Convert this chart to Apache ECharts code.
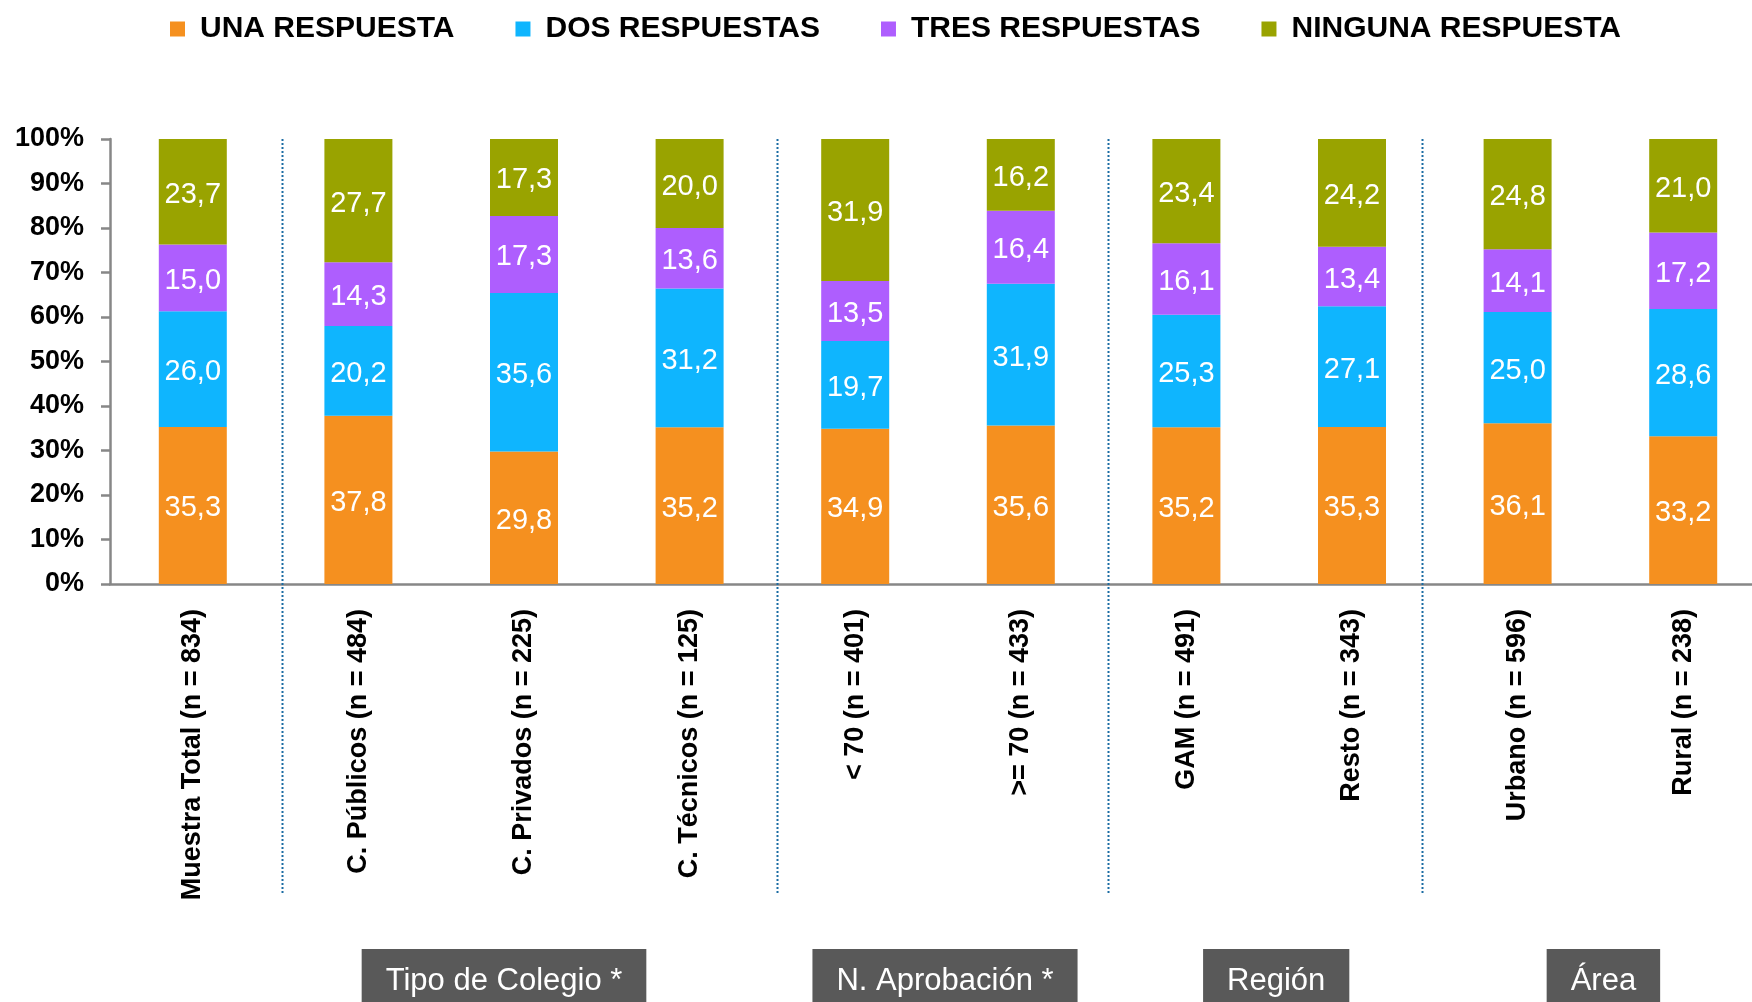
<!DOCTYPE html>
<html>
<head>
<meta charset="utf-8">
<script src="https://cdn.jsdelivr.net/npm/echarts@6/dist/echarts.min.js"></script>
<style>
  html, body { margin: 0; padding: 0; background: #fff; }
  #chart { width: 1752px; height: 1002px; }
</style>
</head>
<body>
<div id="chart"></div>
<script>
// categorías del eje x
const categorias = [
  'Muestra Total (n = 834)',
  'C. Públicos (n = 484)',
  'C. Privados (n = 225)',
  'C. Técnicos (n = 125)',
  '< 70 (n = 401)',
  '>= 70 (n = 433)',
  'GAM (n = 491)',
  'Resto (n = 343)',
  'Urbano (n = 596)',
  'Rural (n = 238)'
]

const nombresSeries = ['UNA RESPUESTA', 'DOS RESPUESTAS', 'TRES RESPUESTAS', 'NINGUNA RESPUESTA']
const coloresSeries = ['#F5901F', '#0FB5FE', '#AE5EFE', '#99A300']

const unaRespuesta = [35.3, 37.8, 29.8, 35.2, 34.9, 35.6, 35.2, 35.3, 36.1, 33.2]
const dosRespuestas = [26.0, 20.2, 35.6, 31.2, 19.7, 31.9, 25.3, 27.1, 25.0, 28.6]
const tresRespuestas = [15.0, 14.3, 17.3, 13.6, 13.5, 16.4, 16.1, 13.4, 14.1, 17.2]
const ningunaRespuesta = [23.7, 27.7, 17.3, 20.0, 31.9, 16.2, 23.4, 24.2, 24.8, 21.0]

// eje y: 0% .. 100% cada 10
const yMin = 0
const yMax = 100
const yPaso = 10

// grupos de la parte inferior (índices de categoría)
const grupoNombres = ['Tipo de Colegio *', 'N. Aprobación *', 'Región', 'Área']
const grupoDesde = [1, 4, 6, 8]
const grupoHasta = [3, 5, 7, 9]
// separadores punteados después de estas categorías
const separadoresTras = [0, 3, 5, 7]

const fuente = '"Liberation Sans", Arial, sans-serif'
const myChart = echarts.init(document.getElementById('chart'))

const valores = [unaRespuesta, dosRespuestas, tresRespuestas, ningunaRespuesta]

const option = {
  animation: false,
  textStyle: { fontFamily: fuente },
  legend: {
    left: 165,
    top: 6,
    itemWidth: 15,
    itemHeight: 15,
    itemGap: 61,
    icon: 'rect',
    selectedMode: false,
    textStyle: {
      fontSize: 30,
      fontWeight: 'bold',
      color: '#000',
      lineHeight: 36,
      padding: [0, 0, 0, 10]
    },
    data: nombresSeries
  },
  grid: {
    left: 110,
    right: -14,
    top: 139,
    bottom: 418,
    containLabel: false,
    outerBoundsMode: 'none'
  },
  xAxis: {
    type: 'category',
    data: categorias,
    axisTick: { show: false },
    axisLine: { lineStyle: { color: '#878787', width: 2.5 } },
    axisLabel: {
      interval: 0,
      rotate: 90,
      margin: 25,
      color: '#000',
      fontSize: 27,
      fontWeight: 'bold'
    }
  },
  yAxis: {
    type: 'value',
    min: yMin,
    max: yMax,
    interval: yPaso,
    splitLine: { show: false },
    axisLine: { show: true, lineStyle: { color: '#878787', width: 2.5 } },
    axisTick: { show: true, length: 9, lineStyle: { color: '#878787', width: 2.5 } },
    axisLabel: {
      formatter: '{value}%',
      margin: 26,
      color: '#000',
      fontSize: 27,
      fontWeight: 'bold'
    }
  },
  series: nombresSeries.map((nombre, i) => ({
    name: nombre,
    type: 'bar',
    stack: 'total',
    barWidth: 68,
    color: coloresSeries[i],
    data: valores[i],
    label: {
      show: true,
      position: 'inside',
      offset: [0, 3],
      color: '#fff',
      fontSize: 29,
      formatter: (p) => p.value.toFixed(1).replace('.', ',')
    }
  }))
}

myChart.setOption(option)

// separadores y cajas de grupo, a partir de las posiciones del eje
const px = (i) => myChart.convertToPixel({ xAxisIndex: 0 }, i)
const yTop = myChart.convertToPixel({ yAxisIndex: 0 }, yMax)
const ajusteSep = [6, 5, 4, -13]
const ajusteGrupo = [-20, 7, 7, 3]

const graficos = []
separadoresTras.forEach((c, k) => {
  const x = Math.round((px(c) + px(c + 1)) / 2 + ajusteSep[k]) + 0.5
  graficos.push({
    type: 'line',
    shape: { x1: x, y1: yTop, x2: x, y2: 893 },
    style: { stroke: '#1B6CA3', lineWidth: 2, lineDash: [2, 2] },
    z: 10
  })
})
grupoNombres.forEach((nombre, k) => {
  const cx = (px(grupoDesde[k]) + px(grupoHasta[k])) / 2 + ajusteGrupo[k]
  graficos.push({
    type: 'text',
    x: cx,
    y: 949,
    style: {
      text: nombre,
      fill: '#fff',
      font: '31px ' + fuente,
      align: 'center',
      verticalAlign: 'top',
      backgroundColor: '#595959',
      padding: [17, 24, 12, 24]
    },
    z: 10
  })
})
myChart.setOption({ graphic: graficos })
</script>
</body>
</html>
